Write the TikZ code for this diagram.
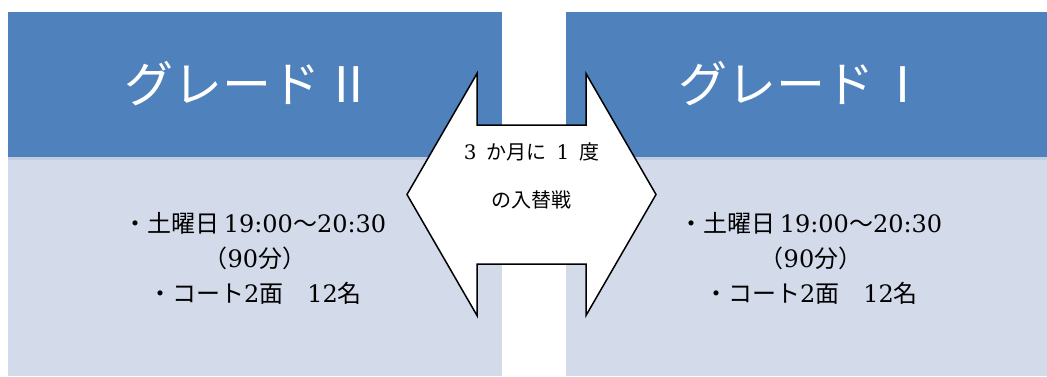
\documentclass[tikz,border=0pt]{standalone}
\usepackage{fontspec}
\usepackage{tikz}
\usetikzlibrary{positioning}
\setmainfont{DejaVu Serif}
\newfontfamily\cjk{Noto Sans CJK JP}
\definecolor{gradeblue}{HTML}{4F81BD}
\definecolor{gradelight}{HTML}{D3DAEA}
\definecolor{gradeedge}{HTML}{C3CDE2}
\tikzset{
	gradetitle/.style={text=white,inner sep=0pt,font=\fontsize{49}{49}\selectfont\cjk},
	gradetext/.style={text=black,inner sep=0pt,align=center,font=\fontsize{24}{35}\selectfont},
	swaparrow/.style={fill=white,draw=black,line width=1.5pt,line join=miter},
	swaptext/.style={text=black,inner sep=0pt,align=center,font=\fontsize{20}{48}\selectfont}
}
\begin{document}
\begin{tikzpicture}[x=1pt,y=-1pt]
	\useasboundingbox (0,0) rectangle (1047,376);
	% grade II panel
	\fill[gradelight] (8,157) rectangle (502,376);
	\fill[gradeedge] (8,157) rectangle (502,160);
	\fill[gradeblue] (8,12) rectangle (502,157);
	\node[gradetitle] (titleII) at (249,84) {グレード\hspace{4pt}Ⅱ};
	\node[gradetext] (infoII) at (255,258) {{\cjk ・土曜日}\,19:00{\cjk 〜}20:30\\{\cjk （}90{\cjk 分）}\\{\cjk ・コート}2{\cjk 面　}12{\cjk 名}};
	% grade I panel
	\fill[gradelight] (566,157) rectangle (1047,376);
	\fill[gradeedge] (566,157) rectangle (1047,160);
	\fill[gradeblue] (566,12) rectangle (1047,157);
	\node[gradetitle] (titleI) at (803,84) {グレード\hspace{4pt}Ⅰ};
	\node[gradetext] (infoI) at (811,258) {{\cjk ・土曜日}\,19:00{\cjk 〜}20:30\\{\cjk （}90{\cjk 分）}\\{\cjk ・コート}2{\cjk 面　}12{\cjk 名}};
	% exchange arrow
	\draw[swaparrow] (407,194.5) -- (477,73.5) -- (477,125) -- (586,125) -- (586,73.5)
		-- (656,194.5) -- (586,315.5) -- (586,264) -- (477,264) -- (477,315.5) -- cycle;
	\node[swaptext] (swap) at (531.5,176) {3\enspace{\cjk か月に}\enspace1\enspace{\cjk 度}\\{\cjk の入替戦}};
\end{tikzpicture}
\end{document}
